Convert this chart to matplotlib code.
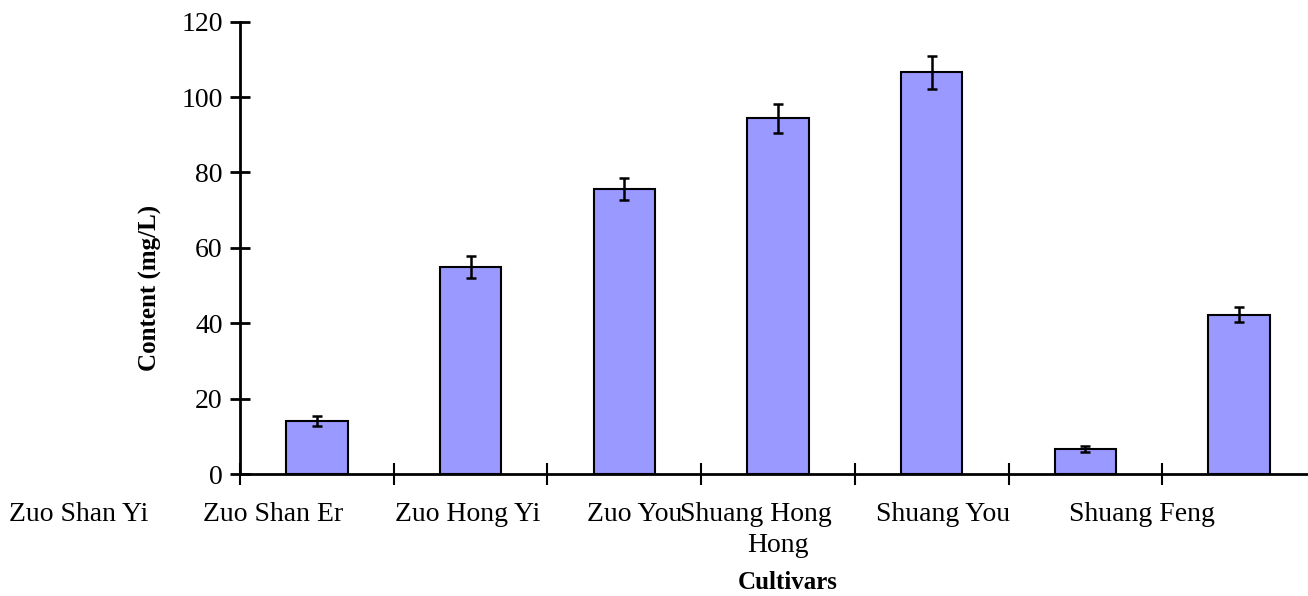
import numpy as np
import matplotlib.pyplot as plt

plt.rcParams['font.family'] = ['Liberation Serif', 'DejaVu Serif']

# Data
cultivars = ['Zuo Shan Yi', 'Zuo Shan Er', 'Zuo Hong Yi', 'Zuo You',
             'Shuang Hong Hong', 'Shuang You', 'Shuang Feng']
content = [14.0, 54.9, 75.6, 94.3, 106.6, 6.6, 42.3]
errors = [1.3, 3.0, 2.9, 3.9, 4.4, 0.8, 2.0]

# The category labels in the original sit out of step with the bars
label_x = [-2.0, -0.74, 0.51, 1.76, 2.36, 3.64, 4.89]

fig = plt.figure(figsize=(13.08, 5.96), dpi=100)
ax = fig.add_axes([240 / 1308, 122 / 596, 1076 / 1308, 452.4 / 596])

x = np.arange(len(content))
ax.bar(x, content, width=0.4, color='#9999FF', edgecolor='black', linewidth=1.5,
       yerr=errors, error_kw=dict(ecolor='black', elinewidth=1.8, capsize=3.6, capthick=1.8))

ax.set_xlim(-0.5, len(content) - 0.5)
ax.set_ylim(0, 120)
ax.set_yticks(np.arange(0, 121, 20))
ax.set_xticks(np.arange(-0.5, len(content), 1.0))
ax.set_xticklabels([])

for s in ['top', 'right']:
    ax.spines[s].set_visible(False)
for s in ['left', 'bottom']:
    ax.spines[s].set_linewidth(2)
ax.tick_params(axis='y', direction='inout', length=15, width=2, labelsize=20, pad=5)
ax.tick_params(axis='x', direction='inout', length=16, width=1.5)

tr = ax.get_xaxis_transform()
for i, name in enumerate(cultivars):
    if name == 'Shuang Hong Hong':
        ax.text(label_x[i], -0.09, 'Shuang Hong', transform=tr, ha='left', va='center',
                fontsize=20, clip_on=False)
        ax.text(3.0, -0.158, 'Hong', transform=tr, ha='center', va='center',
                fontsize=20, clip_on=False)
    else:
        ax.text(label_x[i], -0.09, name, transform=tr, ha='left', va='center',
                fontsize=20, clip_on=False)

ax.text(3.06, -0.24, 'Cultivars', transform=tr, ha='center', va='center',
        fontsize=18, fontweight='bold', clip_on=False)
ax.set_ylabel('Content (mg/L)', fontsize=18, fontweight='bold')
ax.yaxis.set_label_coords(-0.0725, 0.411)

fig.savefig('out.png', dpi=100)
